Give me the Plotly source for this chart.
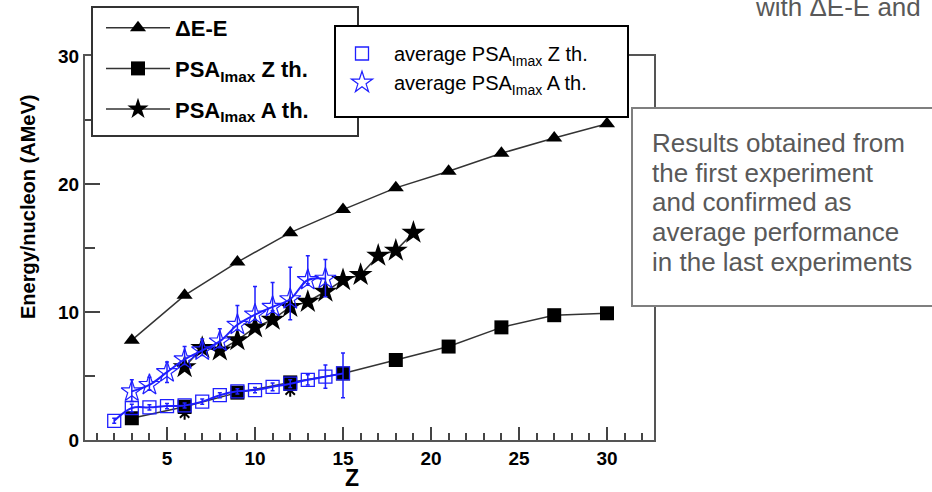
import plotly.graph_objects as go

# ---------------- data ----------------
z_de = [3, 6, 9, 12, 15, 18, 21, 24, 27, 30]
e_de = [7.8, 11.3, 13.9, 16.2, 18.0, 19.7, 21.0, 22.4, 23.6, 24.7]

z_psaz = [3, 6, 9, 12, 15, 18, 21, 24, 27, 30]
e_psaz = [1.7, 2.6, 3.7, 4.5, 5.2, 6.25, 7.3, 8.8, 9.75, 9.9]

z_psaa = [6, 7, 8, 9, 10, 11, 12, 13, 14, 15, 16, 17, 18, 19]
e_psaa = [5.7, 7.2, 7.0, 7.8, 8.8, 9.4, 10.4, 10.8, 11.6, 12.5, 12.9, 14.4, 14.8, 16.2]

z_psaa_low = [6, 12]
e_psaa_low = [2.1, 3.9]

z_avgz = [2, 3, 4, 5, 6, 7, 8, 9, 10, 11, 12, 13, 14, 15]
e_avgz = [1.5, 2.5, 2.55, 2.65, 2.7, 3.0, 3.5, 3.8, 3.9, 4.15, 4.4, 4.7, 4.95, 5.2]
err_avgz_p = [0.2, 0.3, 0.2, 0.2, 0.2, 0.2, 0.2, 0.2, 0.2, 0.3, 0.3, 0.4, 0.9, 1.6]
err_avgz_m = [0.2, 0.3, 0.2, 0.2, 0.2, 0.2, 0.2, 0.2, 0.2, 0.3, 0.3, 0.4, 0.9, 1.9]

z_avga = [3, 4, 5, 6, 7, 8, 9, 10, 11, 12, 13, 14]
e_avga = [3.8, 4.3, 5.3, 6.3, 7.0, 7.7, 9.0, 9.8, 10.4, 11.0, 12.5, 12.6]
err_avga_p = [0.9, 0.6, 0.8, 1.0, 0.9, 1.0, 1.5, 2.2, 1.9, 2.5, 1.9, 1.5]
err_avga_m = [0.8, 0.4, 0.8, 0.4, 0.4, 0.5, 0.4, 0.4, 0.3, 1.6, 0.3, 1.4]

names_main = ["ΔE-E", "PSA<sub>Imax</sub> Z th.", "PSA<sub>Imax</sub> A th."]
names_avg = ["average PSA<sub>Imax</sub> Z th.", "average PSA<sub>Imax</sub> A th."]

x_ticks = [5, 10, 15, 20, 25, 30]
y_ticks = [0, 10, 20, 30]

note_lines = ["Results obtained from", "the first experiment", "and confirmed as",
              "average performance", "in the last experiments"]
top_text = "with ΔE-E and"

# ---------------- layout geometry (pixels) ----------------
W, H = 932, 492
L, R, T, B = 85, 654, 56, 440


def px_x(p):
    return (p - L) / (R - L)


def px_y(p):
    return (B - p) / (B - T)


FONT = "Liberation Sans, Arial, Helvetica, sans-serif"
BLACKLINE = "#333333"
BLUE = "#1f1fff"

fig = go.Figure()

fig.add_trace(go.Scatter(
    x=z_de, y=e_de, mode="lines+markers", name=names_main[0], legendgroup="g1",
    line=dict(color=BLACKLINE, width=1.5),
    marker=dict(symbol="triangle-up", size=14, color="black")))
fig.add_trace(go.Scatter(
    x=z_psaz, y=e_psaz, mode="lines+markers", name=names_main[1], legendgroup="g2",
    line=dict(color=BLACKLINE, width=1.5),
    marker=dict(symbol="square", size=14, color="black")))
fig.add_trace(go.Scatter(
    x=z_psaa, y=e_psaa, mode="lines+markers", name=names_main[2], legendgroup="g3",
    line=dict(color=BLACKLINE, width=1.5),
    marker=dict(symbol="star", size=18, color="black")))
fig.add_trace(go.Scatter(
    x=z_psaa_low, y=e_psaa_low, mode="markers", showlegend=False,
    marker=dict(symbol="asterisk-open", size=11, color="black", line=dict(width=2, color="black"))))

# blue lines
fig.add_trace(go.Scatter(
    x=z_avgz, y=e_avgz, mode="lines", showlegend=False,
    line=dict(color=BLUE, width=2, shape="spline", smoothing=1.0)))
fig.add_trace(go.Scatter(
    x=z_avga, y=e_avga, mode="lines", showlegend=False,
    line=dict(color=BLUE, width=2, shape="spline", smoothing=1.0)))

# blue markers
fig.add_trace(go.Scatter(
    x=z_avgz, y=e_avgz, mode="markers", name=names_avg[0], legend="legend2",
    marker=dict(symbol="square-open", size=13, color=BLUE, line=dict(width=1.3)),
    error_y=dict(type="data", array=err_avgz_p, arrayminus=err_avgz_m,
                 color=BLUE, thickness=1.5, width=2)))
fig.add_trace(go.Scatter(
    x=z_avga, y=e_avga, mode="markers", name=names_avg[1], legend="legend2",
    marker=dict(symbol="star-open", size=16, color=BLUE, line=dict(width=1.2)),
    error_y=dict(type="data", array=err_avga_p, arrayminus=err_avga_m,
                 color=BLUE, thickness=1.5, width=2)))

axis_common = dict(
    showline=True, linecolor="#555555", linewidth=2, mirror=True,
    ticks="inside", tickcolor="#444444", tickwidth=2,
    showgrid=False, zeroline=False,
    tickfont=dict(family=FONT, size=19, color="black", weight="bold"),
)

fig.update_xaxes(range=[0.34, 32.67], tickvals=x_ticks, ticklen=13,
                 minor=dict(dtick=1, tick0=0, ticks="inside", ticklen=7,
                            tickcolor="#444444", tickwidth=2),
                 **axis_common)
fig.update_yaxes(range=[0, 30], tickvals=y_ticks, ticklen=15,
                 minor=dict(dtick=5, tick0=0, ticks="inside", ticklen=10,
                            tickcolor="#444444", tickwidth=2),
                 **axis_common)

shapes = [
    dict(type="rect", xref="paper", yref="paper", layer="above",
         x0=px_x(92), x1=px_x(358), y0=px_y(136), y1=px_y(7),
         line=dict(color="#333333", width=2), fillcolor="white"),
    dict(type="rect", xref="paper", yref="paper", layer="above",
         x0=px_x(335), x1=px_x(628), y0=px_y(117), y1=px_y(26),
         line=dict(color="black", width=2), fillcolor="white"),
    dict(type="rect", xref="paper", yref="paper", layer="above",
         x0=px_x(632), x1=px_x(960), y0=px_y(306), y1=px_y(108),
         line=dict(color="#7f7f7f", width=2), fillcolor="white"),
]

annotations = [
    dict(text="<b>Energy/nucleon (AMeV)</b>", xref="paper", yref="paper",
         x=px_x(28), y=px_y(207), textangle=-90, showarrow=False,
         xanchor="center", yanchor="middle",
         font=dict(family=FONT, size=20, color="black")),
    dict(text="<b>Z</b>", xref="paper", yref="paper",
         x=px_x(352), y=px_y(478), showarrow=False,
         xanchor="center", yanchor="middle",
         font=dict(family=FONT, size=23, color="black")),
    dict(text=top_text, xref="paper", yref="paper",
         x=px_x(753), y=px_y(7), showarrow=False,
         xanchor="left", yanchor="middle",
         font=dict(family=FONT, size=26, color="#595959")),
]
for i, line in enumerate(note_lines):
    annotations.append(dict(
        text=line, xref="paper", yref="paper",
        x=px_x(650), y=px_y(143 + 29.7 * i), showarrow=False,
        xanchor="left", yanchor="middle",
        font=dict(family=FONT, size=26, color="#595959")))

fig.update_layout(
    width=W, height=H,
    margin=dict(l=L, r=W - R, t=T, b=H - B, autoexpand=False),
    paper_bgcolor="white", plot_bgcolor="white",
    showlegend=True,
    shapes=shapes, annotations=annotations,
    legend=dict(x=px_x(101), y=px_y(7), xanchor="left", yanchor="top",
                bgcolor="rgba(0,0,0,0)", borderwidth=0,
                font=dict(family=FONT, size=22, color="black", weight="bold"),
                itemwidth=64, tracegroupgap=9, traceorder="grouped"),
    legend2=dict(x=px_x(330), y=px_y(34), xanchor="left", yanchor="top",
                 bgcolor="rgba(0,0,0,0)", borderwidth=0,
                 font=dict(family=FONT, size=20, color="black"),
                 itemwidth=54, tracegroupgap=0),
)

fig.write_html("out.html")
